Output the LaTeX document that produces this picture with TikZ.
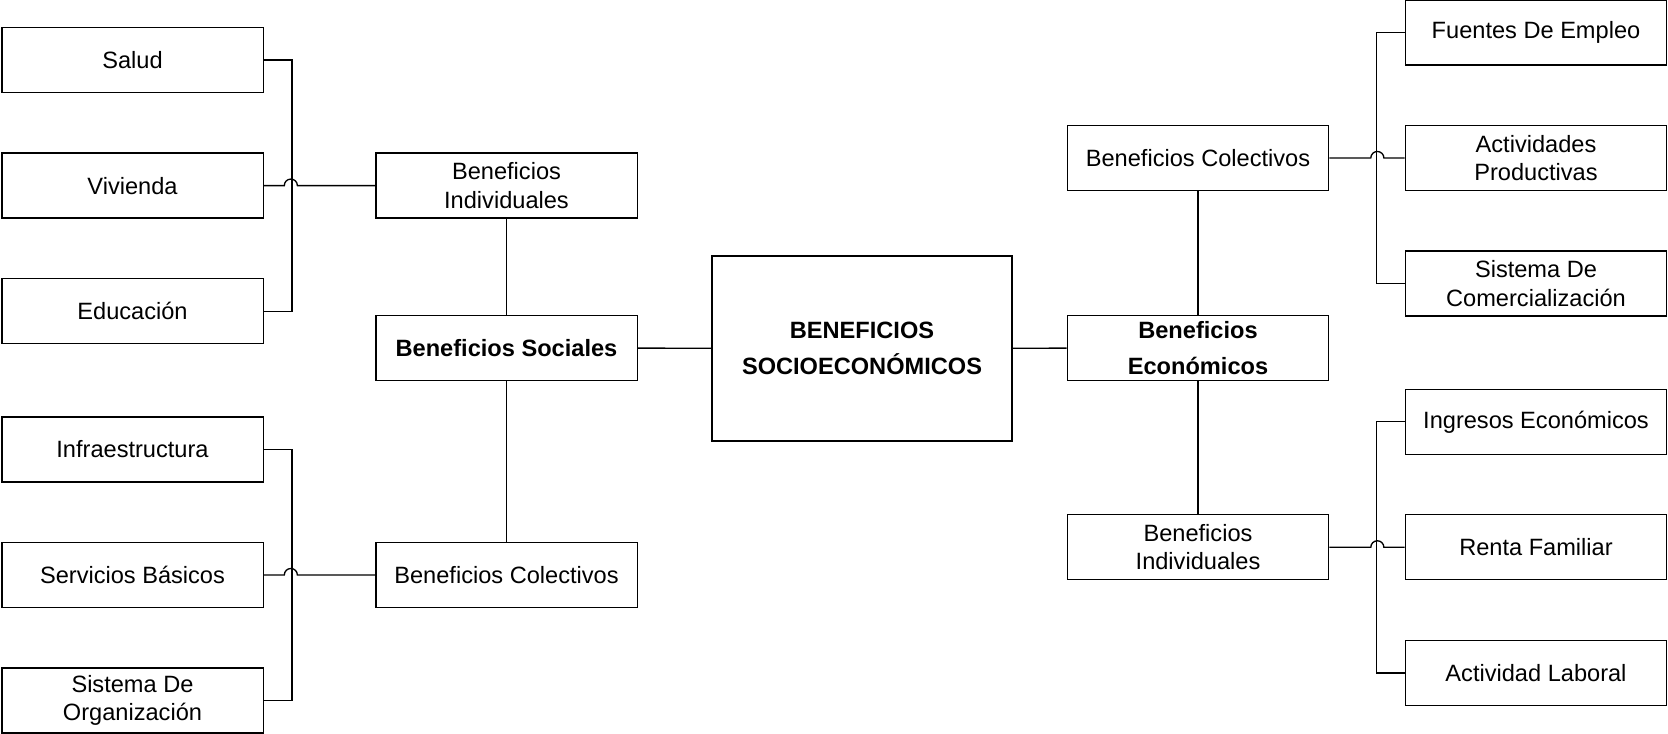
\documentclass[tikz,border=0pt]{standalone}
\usepackage{fontspec}
\setmainfont{Liberation Sans}
\begin{document}
\begin{tikzpicture}[x=0.75pt, y=-0.75pt, line width=1pt,
    caja/.style={draw, line width=1pt, minimum width=196pt, minimum height=48.75pt, align=center, inner sep=2pt, font=\fontsize{17.7}{21.2}\selectfont},
    cajab/.style={caja, font=\fontsize{17.7}{27}\selectfont\bfseries}]
    \useasboundingbox (0,0) rectangle (1668,734);

    \node[cajab, minimum width=225pt, minimum height=138.75pt, font=\fontsize{17.7}{27.5}\selectfont\bfseries] (centro) at (862, 348.5) {BENEFICIOS\\SOCIOECONÓMICOS};

    \node[cajab] (bs) at (506.5, 347.9) {Beneficios Sociales};
    \node[caja] (bi) at (506.5, 185.6) {Beneficios\\Individuales};
    \node[caja] (bc) at (506.5, 575) {Beneficios Colectivos};

    \node[caja] (salud) at (132.5, 60.1) {Salud};
    \node[caja] (viv) at (132.5, 185.6) {Vivienda};
    \node[caja] (edu) at (132.5, 311.2) {Educación};
    \node[caja] (infra) at (132.5, 449.5) {Infraestructura};
    \node[caja] (serv) at (132.5, 575) {Servicios Básicos};
    \node[caja] (sorg) at (132.5, 700.5) {Sistema De\\Organización};

    \node[cajab] (be) at (1198, 347.9) {Beneficios\\Económicos};
    \node[caja] (bce) at (1198, 158) {Beneficios Colectivos};
    \node[caja] (bie) at (1198, 547.3) {Beneficios\\Individuales};

    \node[caja] (fuen) at (1536, 32.4) {Fuentes De Empleo};
    \node[caja] (acti) at (1536, 158) {Actividades\\Productivas};
    \node[caja] (scom) at (1536, 283.5) {Sistema De\\Comercialización};
    \node[caja] (ingr) at (1536, 421.8) {Ingresos Económicos};
    \node[caja] (renta) at (1536, 547.3) {Renta Familiar};
    \node[caja] (lab) at (1536, 672.9) {Actividad Laboral};

    % lineas
    \draw (bs) -- (centro);
    \draw (centro) -- (be);
    \draw (bi) -- (bs);
    \draw (bs) -- (bc);
    \draw (bce) -- (be);
    \draw (be) -- (bie);

    % izquierda
    \draw (salud.east) -- ++(28,0) |- (edu.east);
    \draw (viv.east) -- (284.3, 185.6) arc[start angle=180, end angle=0, radius=4.9pt] -- (bi.west);
    \draw (infra.east) -- ++(28,0) |- (sorg.east);
    \draw (serv.east) -- (284.3, 575) arc[start angle=180, end angle=0, radius=4.9pt] -- (bc.west);

    % derecha
    \draw (fuen.west) -- ++(-28,0) |- (scom.west);
    \draw (bce.east) -- (1370.8, 158) arc[start angle=180, end angle=0, radius=4.9pt] -- (acti.west);
    \draw (ingr.west) -- ++(-28,0) |- (lab.west);
    \draw (bie.east) -- (1370.8, 547.3) arc[start angle=180, end angle=0, radius=4.9pt] -- (renta.west);

  \end{tikzpicture}
\end{document}
